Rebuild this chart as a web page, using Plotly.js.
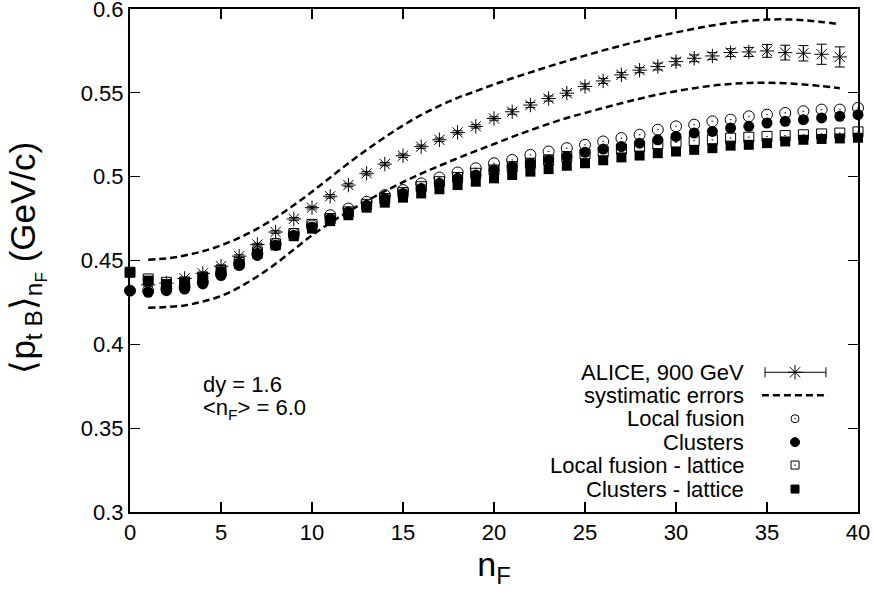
<!DOCTYPE html>
<html><head><meta charset="utf-8">
<script src="https://cdn.plot.ly/plotly-3.0.1.min.js"></script>
<style>html,body{margin:0;padding:0;background:#fff}</style>
</head><body><div id="chart" style="width:874px;height:599px"></div>
<script>
// ---- data ----
const nF = [0,1,2,3,4,5,6,7,8,9,10,11,12,13,14,15,16,17,18,19,20,21,22,23,24,25,26,27,28,29,30,31,32,33,34,35,36,37,38,39,40];
const localFusion = [0.432,0.432,0.433,0.434,0.437,0.442,0.448,0.454,0.460,0.466,0.471,0.477,0.481,0.485,0.489,0.492,0.496,0.4995,0.5025,0.505,0.508,0.510,0.513,0.515,0.517,0.519,0.521,0.523,0.525,0.528,0.530,0.531,0.533,0.534,0.536,0.537,0.538,0.539,0.540,0.540,0.541];
const clusters = [0.432,0.431,0.432,0.433,0.436,0.441,0.447,0.453,0.459,0.465,0.470,0.475,0.479,0.483,0.487,0.490,0.493,0.496,0.499,0.501,0.504,0.506,0.508,0.510,0.512,0.5145,0.5165,0.518,0.520,0.522,0.524,0.526,0.527,0.529,0.530,0.532,0.533,0.534,0.535,0.536,0.537];
const localFusionLattice = [0.443,0.439,0.437,0.437,0.440,0.444,0.449,0.455,0.460,0.466,0.4715,0.475,0.479,0.4835,0.487,0.4905,0.494,0.497,0.4995,0.502,0.504,0.506,0.508,0.510,0.512,0.5135,0.515,0.5165,0.518,0.5195,0.5205,0.5215,0.522,0.523,0.5235,0.524,0.5245,0.525,0.5255,0.526,0.5267];
const clustersLattice = [0.443,0.438,0.436,0.436,0.439,0.443,0.448,0.454,0.459,0.4645,0.469,0.4735,0.477,0.4815,0.4845,0.4875,0.490,0.4925,0.495,0.497,0.499,0.501,0.503,0.5045,0.5065,0.508,0.5098,0.5115,0.5126,0.514,0.515,0.516,0.517,0.5185,0.519,0.520,0.521,0.522,0.5225,0.5228,0.5232];
const aliceN = [1,2,3,4,5,6,7,8,9,10,11,12,13,14,15,16,17,18,19,20,21,22,23,24,25,26,27,28,29,30,31,32,33,34,35,36,37,38,39];
const aliceMean = [0.4355,0.4365,0.4393,0.4423,0.4466,0.4526,0.4595,0.467,0.4748,0.4815,0.4883,0.495,0.502,0.5075,0.5125,0.5179,0.522,0.5264,0.530,0.5347,0.5387,0.5427,0.5466,0.5498,0.5538,0.5571,0.5607,0.5635,0.5657,0.5686,0.5706,0.572,0.574,0.5744,0.575,0.574,0.5736,0.573,0.5714];
const aliceErr = [0.0008,0.0008,0.0008,0.0008,0.0008,0.0008,0.0008,0.0008,0.0008,0.0008,0.001,0.001,0.001,0.001,0.001,0.001,0.001,0.001,0.001,0.001,0.0015,0.0015,0.0015,0.0015,0.0015,0.0015,0.0015,0.0015,0.002,0.002,0.002,0.002,0.0023,0.0027,0.0038,0.0044,0.0046,0.006,0.006];
const sysUpper = [0.4505,0.4512,0.453,0.4555,0.459,0.4635,0.469,0.4755,0.483,0.491,0.4995,0.508,0.516,0.5235,0.5305,0.5368,0.5422,0.547,0.551,0.555,0.5587,0.5622,0.5657,0.569,0.5722,0.5753,0.5782,0.581,0.5837,0.586,0.5882,0.5902,0.5918,0.593,0.5937,0.5938,0.5933,0.5923,0.5909];
const sysLower = [0.4218,0.4222,0.4232,0.4255,0.4288,0.434,0.4405,0.448,0.4565,0.465,0.4725,0.4792,0.4855,0.4913,0.4968,0.5018,0.5065,0.511,0.5153,0.5195,0.5237,0.5277,0.5315,0.535,0.538,0.541,0.5438,0.5465,0.549,0.551,0.5528,0.5543,0.5553,0.5559,0.556,0.5557,0.555,0.554,0.5528];
const yTicks = [0.3,0.35,0.4,0.45,0.5,0.55,0.6];
const yTickLabels = ["0.3","0.35","0.4","0.45","0.5","0.55","0.6"];
const legendLabels = ["ALICE, 900 GeV","systimatic errors","Local fusion","Clusters","Local fusion - lattice","Clusters - lattice"];
const yTitle = '⟨p<sub>t B</sub>⟩<sub>n<sub>F</sub></sub> (GeV/c)';
const xTitle = 'n<sub>F</sub>';

// ---- styling ----
const FONT = "Liberation Sans, Arial, Helvetica, sans-serif";
const dashStyle = {color:'#000', width:2.5, dash:'7px,4px', shape:'spline', smoothing:1};

const traces = [
  {x:aliceN, y:aliceMean, type:'scatter', mode:'markers', cliponaxis:false,
   marker:{symbol:'asterisk-open', size:12, color:'#000', line:{color:'#000', width:1}},
   error_y:{type:'data', array:aliceErr, visible:true, color:'#000', thickness:1, width:5}},
  {x:aliceN, y:sysUpper, type:'scatter', mode:'lines', line:dashStyle},
  {x:aliceN, y:sysLower, type:'scatter', mode:'lines', line:dashStyle},
  {x:nF, y:localFusion, type:'scatter', mode:'markers', cliponaxis:false,
   marker:{symbol:'circle-open-dot', size:11, color:'#000', line:{color:'#000', width:1}}},
  {x:nF, y:clusters, type:'scatter', mode:'markers', cliponaxis:false,
   marker:{symbol:'circle', size:11, color:'#000'}},
  {x:nF, y:localFusionLattice, type:'scatter', mode:'markers', cliponaxis:false,
   marker:{symbol:'square-open-dot', size:10, color:'#000', line:{color:'#000', width:1}}},
  {x:nF, y:clustersLattice, type:'scatter', mode:'markers', cliponaxis:false,
   marker:{symbol:'square', size:10, color:'#000'}}
];

// manual gnuplot-style legend (text left, sample right), in paper coordinates
const rowY = [0.2778,0.2321,0.1855,0.1389,0.0933,0.0456];
const symX = 0.9135, textX = 0.846;
const legSymbols = [
  {s:'asterisk-open', size:12},
  null,
  {s:'circle-open-dot', size:8},
  {s:'circle', size:9},
  {s:'square-open-dot', size:8},
  {s:'square', size:8}
];
legSymbols.forEach((d,i)=>{
  if(!d) return;
  traces.push({x:[symX], y:[rowY[i]], xaxis:'x2', yaxis:'y2', type:'scatter', mode:'markers',
    cliponaxis:false, hoverinfo:'skip',
    marker:{symbol:d.s, size:d.size, color:'#000', line:{color:'#000', width:1}}});
});

const annotations = legendLabels.map((t,i)=>({
  xref:'paper', yref:'paper', x:textX, y:rowY[i], xanchor:'right', yanchor:'middle',
  text:t, showarrow:false, font:{family:FONT, size:22, color:'#000'}
}));
annotations.push({xref:'paper', yref:'paper', x:0.097, y:0.254, xanchor:'left', yanchor:'middle',
  text:'dy = 1.6', showarrow:false, font:{family:FONT, size:22, color:'#000'}});
annotations.push({xref:'paper', yref:'paper', x:0.097, y:0.205, xanchor:'left', yanchor:'middle',
  text:'&lt;n<sub>F</sub>&gt; = 6.0', showarrow:false, font:{family:FONT, size:22, color:'#000'}});
// y-axis title placed as a rotated annotation for exact placement
annotations.push({xref:'paper', yref:'paper', x:-0.142, y:0.505, xanchor:'center', yanchor:'middle',
  textangle:-90, text:yTitle, showarrow:false, font:{family:FONT, size:35, color:'#000'}});

const eb0 = 0.8723, eb1 = 0.9560, capH = 0.010;
const shapes = [
  {type:'line', xref:'paper', yref:'paper', x0:eb0, x1:eb1, y0:rowY[0], y1:rowY[0], line:{color:'#000', width:1}},
  {type:'line', xref:'paper', yref:'paper', x0:eb0, x1:eb0, y0:rowY[0]-capH, y1:rowY[0]+capH, line:{color:'#000', width:1}},
  {type:'line', xref:'paper', yref:'paper', x0:eb1, x1:eb1, y0:rowY[0]-capH, y1:rowY[0]+capH, line:{color:'#000', width:1}},
  {type:'line', xref:'paper', yref:'paper', x0:0.868, x1:0.9588, y0:rowY[1], y1:rowY[1], line:{color:'#000', width:2.5, dash:'7px,4px'}}
];

const axisCommon = {
  showgrid:false, zeroline:false, showline:true, linecolor:'#000', linewidth:2,
  mirror:'allticks', ticks:'inside', ticklen:10, tickwidth:1.3, tickcolor:'#000',
  ticklabeloverflow:'allow',
  tickfont:{family:FONT, size:22, color:'#000'}
};

const layout = {
  width:874, height:599, paper_bgcolor:'#fff', plot_bgcolor:'#fff',
  margin:{l:130, r:16, t:9, b:87}, showlegend:false,
  xaxis:Object.assign({}, axisCommon, {range:[0,40], dtick:5, tick0:0,
    title:{text:xTitle, font:{family:FONT, size:34, color:'#000'}, standoff:4}}),
  yaxis:Object.assign({}, axisCommon, {range:[0.3,0.6], tickmode:'array', tickvals:yTicks, ticktext:yTickLabels}),
  xaxis2:{overlaying:'x', range:[0,1], visible:false, fixedrange:true},
  yaxis2:{overlaying:'y', range:[0,1], visible:false, fixedrange:true},
  annotations:annotations, shapes:shapes
};

Plotly.newPlot('chart', traces, layout, {staticPlot:true, displayModeBar:false});
</script></body></html>
